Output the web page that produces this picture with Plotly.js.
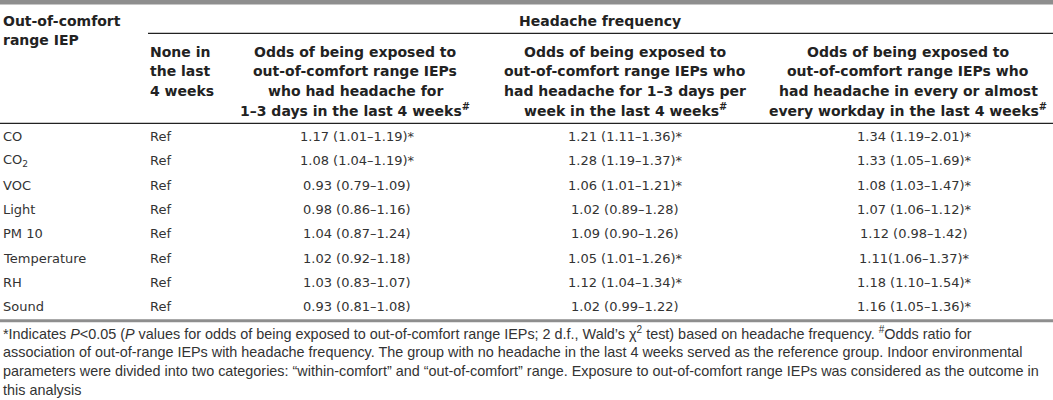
<!DOCTYPE html>
<html>
<head>
<meta charset="utf-8">
<script src="https://cdn.plot.ly/plotly-3.0.1.min.js"></script>
<style>
  html, body { margin: 0; padding: 0; background: #fff; }
  #chart { width: 1053px; height: 400px; }
</style>
</head>
<body>
<div id="chart"></div>
<script>
// ---------- data ----------
const rowHeader = ['Out-of-comfort', 'range IEP'];
const groupHeader = 'Headache frequency';
const colHeaders = [
  ['None in', 'the last', '4 weeks'],
  ['Odds of being exposed to', 'out-of-comfort range IEPs', 'who had headache for', '1–3 days in the last 4 weeks<sup>#</sup>'],
  ['Odds of being exposed to', 'out-of-comfort range IEPs who', 'had headache for 1–3 days per', 'week in the last 4 weeks<sup>#</sup>'],
  ['Odds of being exposed to', 'out-of-comfort range IEPs who', 'had headache in every or almost', 'every workday in the last 4 weeks<sup>#</sup>']
];
const iep = ['CO', 'CO<sub>2</sub>', 'VOC', 'Light', 'PM 10', 'Temperature', 'RH', 'Sound'];
const noneCol = ['Ref', 'Ref', 'Ref', 'Ref', 'Ref', 'Ref', 'Ref', 'Ref'];
const odds13Days = ['1.17 (1.01–1.19)*', '1.08 (1.04–1.19)*', '0.93 (0.79–1.09)', '0.98 (0.86–1.16)',
                    '1.04 (0.87–1.24)', '1.02 (0.92–1.18)', '1.03 (0.83–1.07)', '0.93 (0.81–1.08)'];
const odds13PerWeek = ['1.21 (1.11–1.36)*', '1.28 (1.19–1.37)*', '1.06 (1.01–1.21)*', '1.02 (0.89–1.28)',
                       '1.09 (0.90–1.26)', '1.05 (1.01–1.26)*', '1.12 (1.04–1.34)*', '1.02 (0.99–1.22)'];
const oddsEveryDay = ['1.34 (1.19–2.01)*', '1.33 (1.05–1.69)*', '1.08 (1.03–1.47)*', '1.07 (1.06–1.12)*',
                      '1.12 (0.98–1.42)', '1.11(1.06–1.37)*', '1.18 (1.10–1.54)*', '1.16 (1.05–1.36)*'];
const footnotes = [
  '*Indicates <i>P</i>&lt;0.05 (<i>P</i> values for odds of being exposed to out-of-comfort range IEPs; 2 d.f., Wald’s χ<sup>2</sup> test) based on headache frequency. <sup>#</sup>Odds ratio for',
  'association of out-of-range IEPs with headache frequency. The group with no headache in the last 4 weeks served as the reference group. Indoor environmental',
  'parameters were divided into two categories: “within-comfort” and “out-of-comfort” range. Exposure to out-of-comfort range IEPs was considered as the outcome in',
  'this analysis'
];

// ---------- layout helpers ----------
const W = 1053, H = 400;
const hdrFont = {family: 'DejaVu Sans', size: 14, color: '#222'};
const hdrBold = t => '<b>' + t + '</b>';
const cellFont = {family: 'DejaVu Sans', size: 13, color: '#333'};
const noteFont = {family: 'Liberation Sans, Arial', size: 14.4, color: '#333'};

const ann = [];
function add(x, y, text, font, xanchor) {
  ann.push({x: x, y: y, xref: 'x', yref: 'y', text: text, showarrow: false,
            font: font, xanchor: xanchor || 'center', yanchor: 'middle', borderpad: 0, align: xanchor || 'center'});
}

// header
const rhY = [21, 40];
rowHeader.forEach((t, i) => add(2, rhY[i], hdrBold(t), hdrFont, 'left'));
add(600, 21, hdrBold(groupHeader), hdrFont, 'center');
const subY = [51.5, 71, 90.5, 110];
const colX = [149, 355, 625, 908];
colHeaders.forEach((lines, c) => {
  lines.forEach((t, i) => add(colX[c], subY[i], hdrBold(t), hdrFont, c === 0 ? 'left' : 'center'));
});

// body
const row0 = 136.5, rowStep = 24.3;
const dataX = [2, 149, 357, 625, 914];
const cols = [iep, noneCol, odds13Days, odds13PerWeek, oddsEveryDay];
cols.forEach((col, c) => {
  col.forEach((t, r) => add(dataX[c], row0 + r * rowStep, t, cellFont, c < 2 ? 'left' : 'center'));
});

// footnotes
const noteY = [333, 352, 371, 390];
footnotes.forEach((t, i) => add(2, noteY[i], t, noteFont, 'left'));

const shapes = [
  {type: 'rect', xref: 'x', yref: 'y', x0: 0, x1: W, y0: 0, y1: 4.5, fillcolor: '#8e8e8e', line: {width: 0}},
  {type: 'line', xref: 'x', yref: 'y', x0: 148, x1: W, y0: 33.3, y1: 33.3, line: {color: '#222', width: 1.2}},
  {type: 'line', xref: 'x', yref: 'y', x0: 0, x1: W, y0: 123.3, y1: 123.3, line: {color: '#222', width: 1.2}},
  {type: 'rect', xref: 'x', yref: 'y', x0: 0, x1: W, y0: 319.2, y1: 322.2, fillcolor: '#8e8e8e', line: {width: 0}}
];

const layout = {
  width: W, height: H,
  margin: {l: 0, r: 0, t: 0, b: 0, pad: 0},
  paper_bgcolor: '#fff', plot_bgcolor: '#fff',
  xaxis: {range: [0, W], visible: false, fixedrange: true},
  yaxis: {range: [H, 0], visible: false, fixedrange: true},
  showlegend: false,
  annotations: ann,
  shapes: shapes
};

Plotly.newPlot('chart', [{x: [], y: [], type: 'scatter', mode: 'markers', hoverinfo: 'skip'}], layout,
               {staticPlot: true, displayModeBar: false});
</script>
</body>
</html>
